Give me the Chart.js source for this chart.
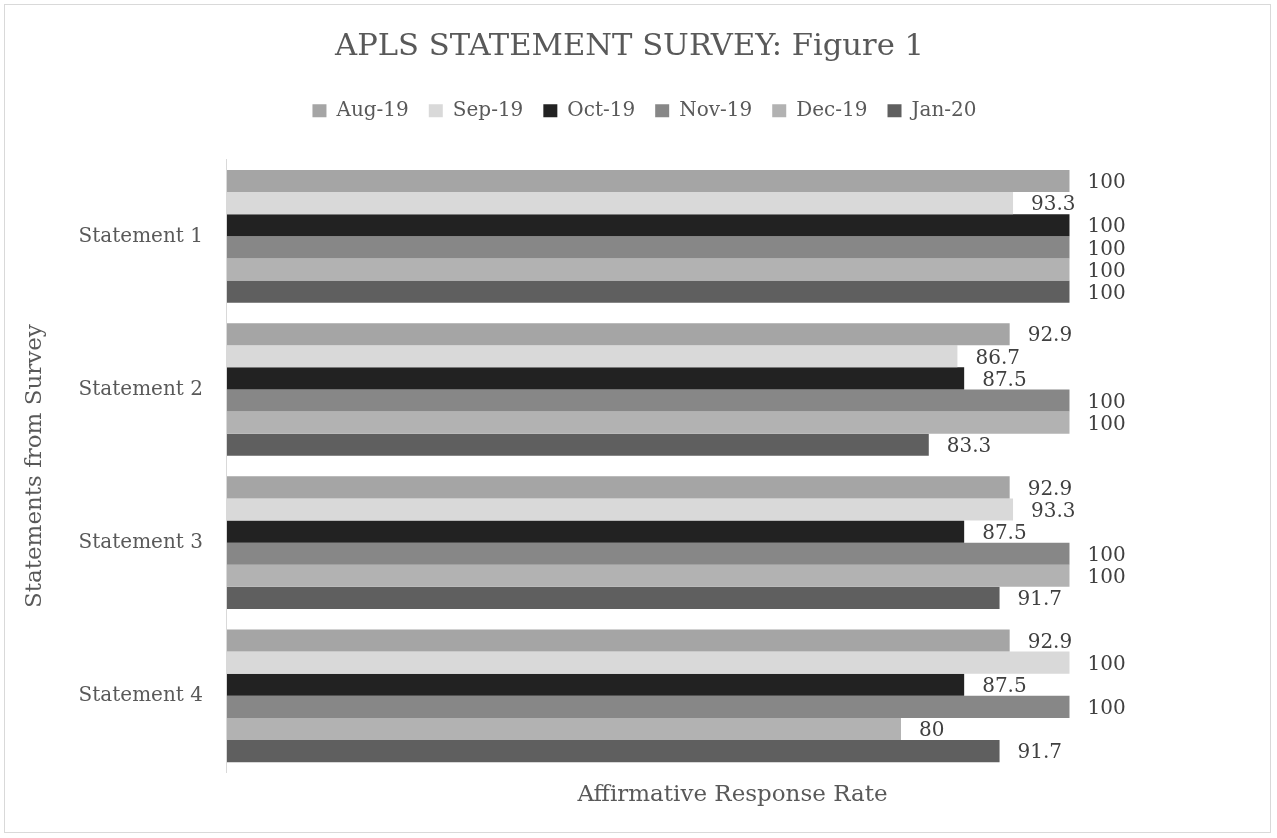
<!DOCTYPE html>
<html>
<head>
<meta charset="utf-8">
<script src="https://cdn.jsdelivr.net/npm/chart.js@4.4.0/dist/chart.umd.min.js"></script>
<style>
  html, body { margin: 0; padding: 0; background: #fff; }
  #wrap { width: 1277px; height: 838px; position: relative; }
</style>
</head>
<body>
<div id="wrap"><canvas id="survey-chart" width="1277" height="838"></canvas></div>
<script>
const statements = ['Statement 1', 'Statement 2', 'Statement 3', 'Statement 4'];
const aug19 = [100, 92.9, 92.9, 92.9];
const sep19 = [93.3, 86.7, 93.3, 100];
const oct19 = [100, 87.5, 87.5, 87.5];
const nov19 = [100, 100, 100, 100];
const dec19 = [100, 100, 100, 80];
const jan20 = [100, 83.3, 91.7, 91.7];

const FONT = "'DejaVu Serif', 'Liberation Serif', serif";
const TEXT = '#595959';

const series = [
  { label: 'Aug-19', data: aug19, color: '#a5a5a5' },
  { label: 'Sep-19', data: sep19, color: '#d9d9d9' },
  { label: 'Oct-19', data: oct19, color: '#222222' },
  { label: 'Nov-19', data: nov19, color: '#878787' },
  { label: 'Dec-19', data: dec19, color: '#b2b2b2' },
  { label: 'Jan-20', data: jan20, color: '#5f5f5f' }
];

// value labels just right of every bar
const valueLabels = {
  id: 'valueLabels',
  afterDatasetsDraw(chart) {
    const c = chart.ctx;
    c.save();
    c.font = `20px ${FONT}`;
    c.fillStyle = '#404040';
    c.textAlign = 'left';
    c.textBaseline = 'middle';
    chart.data.datasets.forEach((ds, i) => {
      chart.getDatasetMeta(i).data.forEach((bar, j) => {
        c.fillText(String(ds.data[j]), bar.x + 18, bar.y + 2);
      });
    });
    c.restore();
  }
};

const frame = {
  id: 'frame',
  beforeDraw(chart) {
    const c = chart.ctx;
    c.save();
    c.fillStyle = '#fff';
    c.fillRect(0, 0, chart.width, chart.height);
    c.strokeStyle = '#d9d9d9';
    c.lineWidth = 1;
    c.strokeRect(4.5, 4.5, 1266, 828);
    c.restore();
  }
};

// nudge the legend a little to the right, like the original
const legendShift = {
  id: 'legendShift',
  afterLayout(chart) {
    if (!chart.legend) return;
    chart.legend.left += 15;
    chart.legend.right += 15;
  }
};

new Chart(document.getElementById('survey-chart'), {
  type: 'bar',
  data: {
    labels: statements,
    datasets: series.map(s => ({
      label: s.label,
      data: s.data,
      backgroundColor: s.color,
      borderWidth: 0,
      categoryPercentage: 0.866,
      barPercentage: 1
    }))
  },
  options: {
    indexAxis: 'y',
    responsive: false,
    animation: false,
    layout: { padding: { top: 5, right: 39, bottom: 29, left: 21 } },
    plugins: {
      title: {
        display: true,
        text: 'APLS STATEMENT SURVEY: Figure 1',
        color: TEXT,
        font: { family: FONT, size: 30.6, weight: 'normal' },
        padding: { top: 24, bottom: 15 }
      },
      // empty subtitle used as a spacer between legend and plot
      subtitle: {
        display: true,
        text: '',
        weight: 500,
        font: { family: FONT, size: 10 },
        padding: { top: 0, bottom: 17 }
      },
      legend: {
        position: 'top',
        labels: {
          color: TEXT,
          font: { family: FONT, size: 20 },
          boxWidth: 14, boxHeight: 13,
          padding: 20
        }
      },
      tooltip: { enabled: false }
    },
    scales: {
      x: {
        min: 0, max: 120,
        grid: { display: false, drawTicks: false },
        border: { display: false },
        ticks: { display: false },
        title: {
          display: true, text: 'Affirmative Response Rate', color: TEXT,
          font: { family: FONT, size: 23 }, padding: { top: 9, bottom: 0 }
        }
      },
      y: {
        grid: { display: false, drawTicks: false },
        border: { display: true, color: '#d9d9d9', width: 1 },
        ticks: { color: TEXT, font: { family: FONT, size: 20 }, padding: 24 },
        title: {
          display: true, text: 'Statements from Survey', color: TEXT,
          font: { family: FONT, size: 23 }, padding: { top: 0, bottom: 6 }
        }
      }
    }
  },
  plugins: [frame, legendShift, valueLabels]
});
</script>
</body>
</html>
